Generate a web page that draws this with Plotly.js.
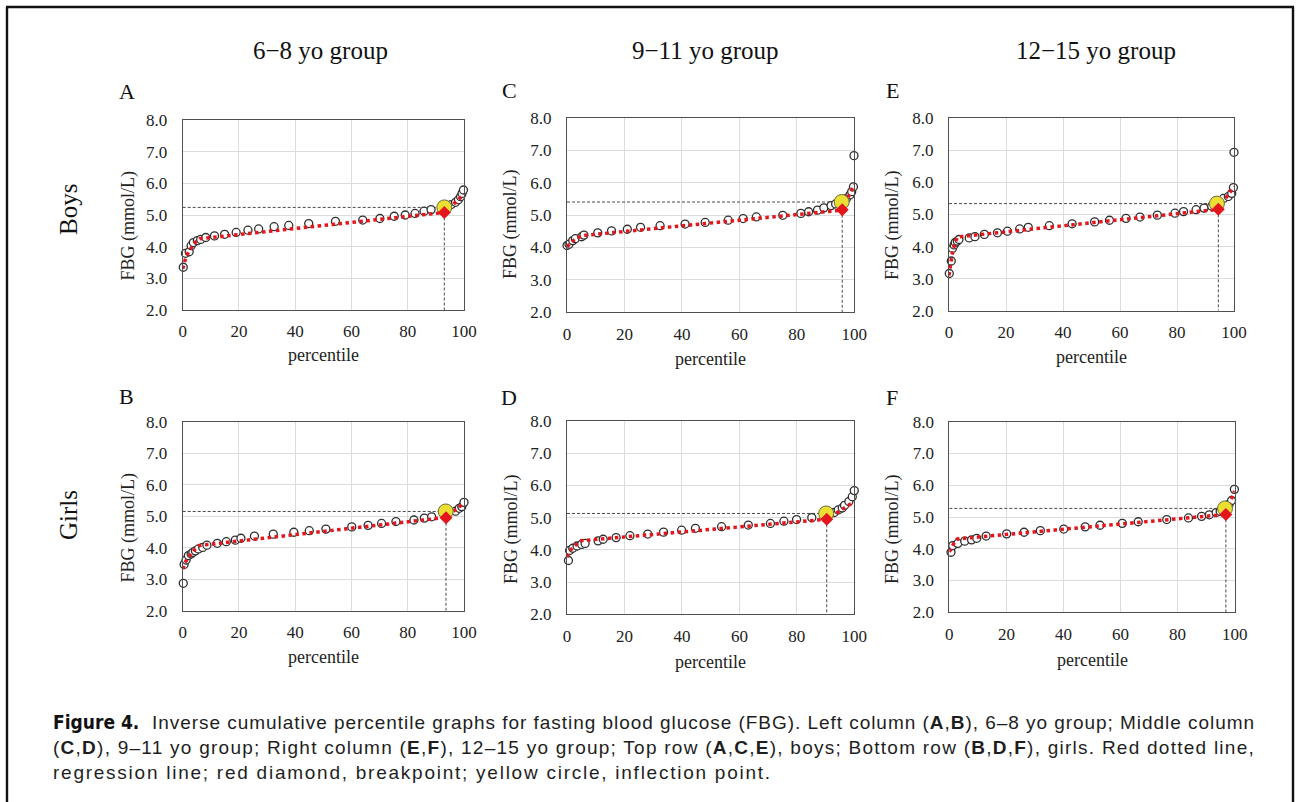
<!DOCTYPE html>
<html>
<head>
<meta charset="utf-8">
<script src="https://cdn.plot.ly/plotly-3.0.1.min.js"></script>
<style>
html,body{margin:0;padding:0;background:#fff;}
#chart{width:1298px;height:802px;}
</style>
</head>
<body>
<div id="chart"></div>
<script>
// ---------- DATA ----------
const columnTitles = ['6\u22128 yo group', '9\u221211 yo group', '12\u221215 yo group'];
const rowTitles = ['Boys', 'Girls'];
const panelLetters = ['A', 'C', 'E', 'B', 'D', 'F'];
const xTickVals = [0, 20, 40, 60, 80, 100];
const yTickVals = [2, 3, 4, 5, 6, 7, 8];

// Panel A: boys 6-8
const pctA = [0.2,1.0,2.3,3.0,3.8,5.2,6.4,8.2,11.3,14.9,19.0,23.2,27.0,32.5,37.7,44.8,54.3,64.0,70.1,75.2,79.1,82.6,85.8,88.3,95.5,97.0,98.0,98.8,99.3,99.8];
const fbgA = [3.35,3.79,3.84,4.03,4.13,4.19,4.23,4.29,4.34,4.39,4.45,4.52,4.56,4.63,4.67,4.73,4.80,4.84,4.89,4.96,5.00,5.05,5.12,5.17,5.33,5.40,5.48,5.58,5.68,5.79];
const regAx = [0,1,2,3,4,5,6,93,100];
const regAy = [3.30,3.62,3.82,3.97,4.09,4.18,4.25,5.08,5.65];
const bpA = [93.0, 5.08];
const inflA = [93.0, 5.24];

// Panel C: boys 9-11
const pctC = [0.0,0.7,2.0,2.9,5.1,5.9,10.7,15.5,21.0,25.6,32.4,41.1,48.1,56.1,61.3,65.9,75.1,81.4,84.1,87.2,89.4,91.9,93.5,97.3,98.5,99.1,99.7,99.9];
const fbgC = [4.06,4.10,4.21,4.27,4.33,4.38,4.45,4.51,4.56,4.62,4.67,4.72,4.77,4.84,4.89,4.94,4.99,5.05,5.10,5.15,5.22,5.29,5.34,5.51,5.62,5.72,5.87,6.83];
const regCx = [0,2,4,6,95.7,100];
const regCy = [4.02,4.20,4.31,4.37,5.15,5.95];
const bpC = [95.8, 5.16];
const inflC = [95.6, 5.40];

// Panel E: boys 12-15
const pctE = [0.1,0.8,1.2,1.8,2.2,2.9,3.5,7.1,9.1,12.4,17.0,20.5,24.8,27.8,35.2,43.2,51.1,56.3,62.1,67.0,73.1,79.3,82.3,86.7,89.5,92.2,96.3,98.0,99.2,99.8,100];
const fbgE = [3.16,3.55,3.94,4.05,4.13,4.17,4.22,4.27,4.31,4.38,4.43,4.48,4.55,4.60,4.65,4.71,4.77,4.82,4.88,4.92,4.98,5.04,5.09,5.15,5.20,5.26,5.50,5.56,5.66,5.84,6.94];
const regEx = [0,1,2,3,94.3,100];
const regEy = [3.10,3.70,4.10,4.30,5.16,5.87];
const bpE = [94.5, 5.16];
const inflE = [94.0, 5.34];

// Panel B: girls 6-8
const pctB = [0.2,0.5,1.2,2.0,3.0,3.6,4.5,5.6,7.1,8.6,12.3,15.5,18.7,20.7,25.5,32.2,39.5,45.0,50.9,60.1,65.9,70.7,75.8,82.2,85.9,88.5,97.0,98.3,99.2,100];
const fbgB = [2.87,3.47,3.61,3.75,3.80,3.85,3.90,3.96,4.01,4.08,4.14,4.19,4.24,4.30,4.37,4.43,4.49,4.54,4.59,4.66,4.71,4.77,4.83,4.88,4.94,4.98,5.16,5.25,5.30,5.44];
const regBx = [0,1,2,3,4,5,6,93.5,100];
const regBy = [3.32,3.55,3.70,3.82,3.92,4.00,4.07,4.96,5.42];
const bpB = [93.6, 4.95];
const inflB = [93.5, 5.15];

// Panel D: girls 9-11
const pctD = [0.5,0.9,2.0,3.5,5.1,6.3,10.8,12.6,17.1,21.9,28.1,33.6,39.9,44.7,53.8,63.1,70.8,75.5,79.9,85.2,93.0,94.4,95.8,96.6,98.1,99.3,100];
const fbgD = [3.67,3.98,4.05,4.12,4.17,4.20,4.28,4.33,4.38,4.44,4.49,4.55,4.61,4.67,4.72,4.77,4.82,4.89,4.94,5.00,5.16,5.24,5.30,5.38,5.50,5.65,5.84];
const regDx = [0,1,2,3,4.5,90.4,100];
const regDy = [3.78,3.97,4.07,4.15,4.28,4.95,5.50];
const bpD = [90.4, 4.95];
const inflD = [90.2, 5.13];

// Panel F: girls 12-15
const pctF = [0.6,1.2,3.0,5.4,7.8,9.6,12.9,20.1,26.2,31.9,40.1,47.6,52.8,60.6,66.2,76.2,83.8,88.4,91.1,93.5,94.9,98.1,98.9,99.9];
const fbgF = [3.89,4.10,4.17,4.24,4.28,4.33,4.40,4.47,4.52,4.57,4.62,4.69,4.74,4.80,4.85,4.92,4.97,5.02,5.07,5.14,5.18,5.41,5.52,5.87];
const regFx = [0,1,2,2.8,96.7,100];
const regFy = [3.90,4.10,4.24,4.31,5.08,5.82];
const bpF = [96.9, 5.08];
const inflF = [96.6, 5.27];

// caption lines
const captionLead = 'Figure 4.';
const captionLines = [
  'Inverse cumulative percentile graphs for fasting blood glucose (FBG). Left column (<b>A</b>,<b>B</b>), 6\u20138 yo group; Middle column',
  '(<b>C</b>,<b>D</b>), 9\u201311 yo group; Right column (<b>E</b>,<b>F</b>), 12\u201315 yo group; Top row (<b>A</b>,<b>C</b>,<b>E</b>), boys; Bottom row (<b>B</b>,<b>D</b>,<b>F</b>), girls. Red dotted line,',
  'regression line; red diamond, breakpoint; yellow circle, inflection point.'
];

// ---------- LAYOUT / DRAWING ----------
const W = 1298, H = 802;
const PX = v => v / W;
const PY = v => 1 - v / H;
const SERIF = "'Liberation Serif', 'Times New Roman', serif";
const SANS = "'Liberation Sans', Arial, Helvetica, sans-serif";
const NARROW = "'Liberation Sans Narrow', 'DejaVu Sans Condensed', 'Liberation Sans', sans-serif";

const panels = [
  {pct:pctA, fbg:fbgA, rx:regAx, ry:regAy, bp:bpA, infl:inflA, dx:[182.7,464], dy:[120,310], letter:[127,92], yt:[127.5,225], xt:355},
  {pct:pctC, fbg:fbgC, rx:regCx, ry:regCy, bp:bpC, infl:inflC, dx:[567,854.3], dy:[117.7,312.3], letter:[509,91], yt:[511,224], xt:359},
  {pct:pctE, fbg:fbgE, rx:regEx, ry:regEy, bp:bpE, infl:inflE, dx:[949,1234], dy:[118.3,310.7], letter:[892,91], yt:[892,225], xt:357},
  {pct:pctB, fbg:fbgB, rx:regBx, ry:regBy, bp:bpB, infl:inflB, dx:[182.7,464], dy:[421.7,610.7], letter:[126,396], yt:[127.5,527], xt:657},
  {pct:pctD, fbg:fbgD, rx:regDx, ry:regDy, bp:bpD, infl:inflD, dx:[567,854.3], dy:[421,614.3], letter:[509,397], yt:[511,529], xt:662},
  {pct:pctF, fbg:fbgF, rx:regFx, ry:regFy, bp:bpF, infl:inflF, dx:[949.3,1234.7], dy:[421.7,612.3], letter:[892,397], yt:[892,529], xt:660}
];

const traces = [];
const layout = {
  width: W, height: H,
  margin: {l:0, r:0, t:0, b:0},
  paper_bgcolor: '#ffffff',
  plot_bgcolor: '#ffffff',
  showlegend: false,
  annotations: [],
  shapes: []
};

panels.forEach((p, i) => {
  const n = i + 1;
  const xa = 'x' + (n > 1 ? n : '');
  const ya = 'y' + (n > 1 ? n : '');
  const common = {xaxis: xa, yaxis: ya, hoverinfo: 'skip', cliponaxis: false};
  traces.push(Object.assign({type:'scatter', mode:'lines', x:[0, p.infl[0]], y:[p.infl[1], p.infl[1]],
    line:{color:'#4a4a4a', width:1, dash:'3px,2px'}}, common));
  traces.push(Object.assign({type:'scatter', mode:'lines', x:[p.bp[0], p.bp[0]], y:[p.bp[1], 2],
    line:{color:'#4a4a4a', width:1, dash:'3px,2px'}}, common));
  traces.push(Object.assign({type:'scatter', mode:'markers', x:p.pct, y:p.fbg,
    marker:{symbol:'circle', size:8, color:'#ffffff', line:{color:'#2e2e2e', width:1.3}}}, common));
  traces.push(Object.assign({type:'scatter', mode:'lines', x:p.rx, y:p.ry,
    line:{color:'#e3161e', width:3.5, dash:'dot'}}, common));
  traces.push(Object.assign({type:'scatter', mode:'markers', x:[p.infl[0]], y:[p.infl[1]],
    marker:{symbol:'circle', size:15, color:'#ebdf34', line:{color:'#6b6b3a', width:1}}}, common));
  traces.push(Object.assign({type:'scatter', mode:'markers', x:[p.bp[0]], y:[p.bp[1]],
    marker:{symbol:'diamond', size:10, color:'#e3161e', line:{width:0}}}, common));

  layout['xaxis' + (n > 1 ? n : '')] = {
    domain: [PX(p.dx[0]), PX(p.dx[1])], anchor: ya, range: [0, 100],
    tickvals: xTickVals, ticks: '', ticklabelstandoff: 6,
    showgrid: true, gridcolor: '#dcdcdc', gridwidth: 1, zeroline: false,
    showline: true, mirror: true, linecolor: '#505050', linewidth: 1,
    tickfont: {family: SERIF, size: 17, color: '#222'}, fixedrange: true
  };
  layout['yaxis' + (n > 1 ? n : '')] = {
    domain: [PY(p.dy[1]), PY(p.dy[0])], anchor: xa, range: [2, 8],
    tickvals: yTickVals, tickformat: '.1f', ticks: '', ticklabelstandoff: 11,
    showgrid: true, gridcolor: '#dcdcdc', gridwidth: 1, zeroline: false,
    showline: true, mirror: true, linecolor: '#505050', linewidth: 1,
    tickfont: {family: SERIF, size: 17, color: '#222'}, fixedrange: true
  };

  layout.annotations.push({xref:'paper', yref:'paper', x:PX(p.letter[0]), y:PY(p.letter[1]),
    xanchor:'center', yanchor:'middle', showarrow:false, text:panelLetters[i],
    font:{family:SERIF, size:22, color:'#111'}});
  layout.annotations.push({xref:'paper', yref:'paper', x:PX(p.yt[0]), y:PY(p.yt[1]),
    xanchor:'center', yanchor:'middle', showarrow:false, text:'FBG (mmol/L)', textangle:-90,
    font:{family:SERIF, size:18, color:'#222'}});
  layout.annotations.push({xref:'paper', yref:'paper', x:PX((p.dx[0] + p.dx[1]) / 2), y:PY(p.xt),
    xanchor:'center', yanchor:'middle', showarrow:false, text:'percentile',
    font:{family:SERIF, size:18, color:'#222'}});
});

[320, 705, 1096].forEach((cx, j) => {
  layout.annotations.push({xref:'paper', yref:'paper', x:PX(cx), y:PY(50), xanchor:'center', yanchor:'middle',
    showarrow:false, text:columnTitles[j], font:{family:SERIF, size:25, color:'#111'}});
});
[210, 515].forEach((cy, j) => {
  layout.annotations.push({xref:'paper', yref:'paper', x:PX(68), y:PY(cy), xanchor:'center', yanchor:'middle',
    showarrow:false, text:rowTitles[j], textangle:-90, font:{family:SERIF, size:25, color:'#111'}});
});

// caption: measure text so each line spans the same width as in the reference
const CAP_SIZE = 19;
const ctx = document.createElement('canvas').getContext('2d');
function measureHtml(html, size) {
  let w = 0, n = 0;
  html.split(/(<b>[^<]*<\/b>)/).forEach(seg => {
    if (!seg) return;
    const bold = seg.startsWith('<b>');
    const txt = bold ? seg.slice(3, -4) : seg;
    ctx.font = (bold ? 'bold ' : '') + size + "px 'Liberation Sans'";
    w += ctx.measureText(txt).width;
    n += txt.length;
  });
  return {w, n};
}
const capStart = [150, 51, 51];
const capEnd = [1253, 1253, 770];
const capY = [722, 747, 772];
layout.annotations.push({xref:'paper', yref:'paper', x:PX(51), y:PY(capY[0]), xanchor:'left', yanchor:'middle',
  showarrow:false, text:'<b>' + captionLead + '</b>', font:{family:NARROW, size:19, color:'#111'}});
captionLines.forEach((line, k) => {
  const m = measureHtml(line, CAP_SIZE);
  const ls = Math.max(0, (capEnd[k] - capStart[k] - m.w) / m.n);
  layout.annotations.push({xref:'paper', yref:'paper', x:PX(capStart[k]), y:PY(capY[k]), xanchor:'left', yanchor:'middle',
    showarrow:false, text:'<span style="letter-spacing:' + ls.toFixed(2) + 'px">' + line + '</span>',
    font:{family:SANS, size:CAP_SIZE, color:'#1e1e1e'}});
});

// outer frame (open at the bottom)
const frame = {color:'#111', width:2.4};
layout.shapes.push({type:'line', xref:'paper', yref:'paper', x0:PX(7), x1:PX(7), y0:PY(7), y1:PY(805), line:frame});
layout.shapes.push({type:'line', xref:'paper', yref:'paper', x0:PX(6), x1:PX(1294), y0:PY(7), y1:PY(7), line:frame});
layout.shapes.push({type:'line', xref:'paper', yref:'paper', x0:PX(1293), x1:PX(1293), y0:PY(7), y1:PY(805), line:frame});

Plotly.newPlot('chart', traces, layout, {staticPlot: true, displayModeBar: false});
</script>
</body>
</html>
